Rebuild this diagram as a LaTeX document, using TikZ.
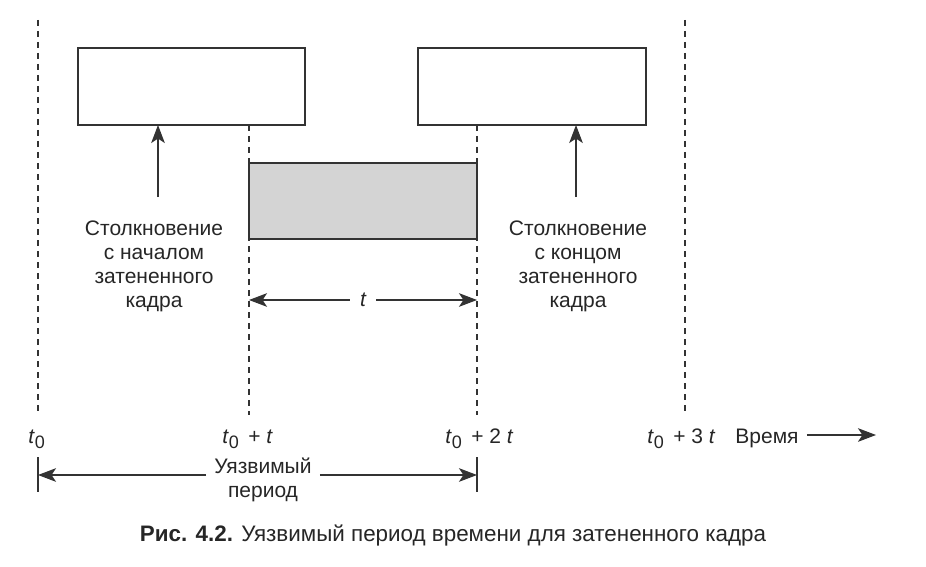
\documentclass[tikz,border=0pt]{standalone}
\usepackage{fontspec}
\setmainfont{Liberation Sans}
\usetikzlibrary{arrows.meta,calc}
\newcommand{\tz}{{\itshape t}\kern0.3pt\raisebox{-0.5ex}{\small 0}}
\begin{document}
\begin{tikzpicture}[x=0.5pt,y=-0.5pt,
  every node/.style={font=\fontsize{10.5}{12}\selectfont, text=black!85},
  frame/.style={draw=black!80, line width=0.6pt, inner sep=0pt, outer sep=0pt, anchor=north west},
  dsh/.style={draw=black!80, line width=0.55pt, dash pattern=on 3pt off 2.5pt},
  sol/.style={draw=black!80, line width=0.6pt},
  arr/.style={draw=black!80, line width=0.6pt, -{Stealth[length=9pt,width=6.8pt,inset=2.2pt]}},
  lbl/.style={align=center, inner sep=0pt},
  tick/.style={anchor=base west, inner sep=0pt}]
\useasboundingbox (0,0) rectangle (926,567);
% dashed time lines
\coordinate (d0t) at (38,20);   \coordinate (d0b) at (38,415);
\coordinate (d1t) at (249,125); \coordinate (d1b) at (249,415);
\coordinate (d2t) at (477,125); \coordinate (d2b) at (477,415);
\coordinate (d3t) at (685,20);  \coordinate (d3b) at (685,415);
\draw[dsh] (d0t) -- (d0b);
\draw[dsh] (d1t) -- (d1b);
\draw[dsh] (d2t) -- (d2b);
\draw[dsh] (d3t) -- (d3b);
% frames
\node[frame, fill=white, minimum width=113.5pt, minimum height=38.5pt] (f1) at (78,48) {};
\node[frame, fill=white, minimum width=114pt, minimum height=38.5pt] (f2) at (418,48) {};
\node[frame, fill=black!17, minimum width=114pt, minimum height=38pt] (fs) at (249,163) {};
% collision labels
\node[lbl] (c1) at (154,266) {Столкновение\\с началом\\затененного\\кадра};
\node[lbl] (c2) at (578,266) {Столкновение\\с концом\\затененного\\кадра};
\coordinate (a1) at (158,197);
\coordinate (a2) at (576,197);
\draw[arr] (a1) -- (a1 |- f1.south);
\draw[arr] (a2) -- (a2 |- f2.south);
% t interval
\node[inner sep=5pt] (tt) at (363,300) {\itshape t};
\coordinate (tl) at (249,300);
\coordinate (tr) at (477,300);
\draw[arr] (tt.west) -- (tl);
\draw[arr] (tt.east) -- (tr);
% time labels
\node[tick] (l0) at (28,443) {\tz};
\node[tick] (l1) at (222,443) {\tz\hspace{0.45em}+ {\itshape t}};
\node[tick] (l2) at (445,443) {\tz\hspace{0.45em}+ 2 {\itshape t}};
\node[tick] (l3) at (647,443) {\tz\hspace{0.45em}+ 3 {\itshape t}};
\node[tick] (vr) at (735,443) {Время};
\coordinate (tend) at (876,435);
\draw[arr] ([xshift=4pt]vr.east |- tend) -- (tend);
% vulnerable period
\coordinate (p0t) at (38,457); \coordinate (p0b) at (38,492);
\coordinate (p1t) at (477,457); \coordinate (p1b) at (477,492);
\draw[sol] (p0t) -- (p0b);
\draw[sol] (p1t) -- (p1b);
\node[lbl, inner xsep=4pt] (vp) at (263,480) {Уязвимый\\период};
\coordinate (pl) at (38,475);
\coordinate (pr) at (477,475);
\draw[arr] (vp.west |- pl) -- (pl);
\draw[arr] (vp.east |- pr) -- (pr);
% caption
\node[inner sep=0pt, font=\fontsize{11.2}{13}\selectfont] (cap) at (453,536) {\textbf{Рис. 4.2.} Уязвимый период времени для затененного кадра};
\end{tikzpicture}
\end{document}
